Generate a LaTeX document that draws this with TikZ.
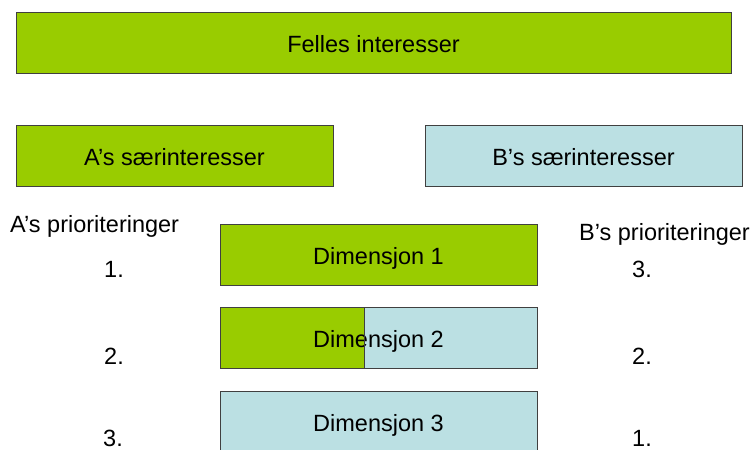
\documentclass[tikz,border=0pt]{standalone}
\usepackage{fontspec}
\setmainfont{Liberation Sans}
\definecolor{agreen}{HTML}{99CC00}
\definecolor{bblue}{HTML}{BBE0E3}
\definecolor{edge}{HTML}{404040}
\begin{document}
\begin{tikzpicture}[x=1pt,y=-1pt,
  every node/.style={font=\fontsize{23.5}{28}\selectfont, text=black},
  box/.style={draw=edge, line width=0.8pt, inner sep=0pt, outer sep=0pt,
    text height=19pt, text depth=0pt, minimum height=61pt},
  lbl/.style={inner sep=0pt, anchor=base west}]
\clip (0,0) rectangle (756,450);
\fill[white] (0,0) rectangle (756,450);
% top boxes
\node[box, fill=agreen, minimum width=715pt] (felles) at (373.5,43) {Felles interesser};
\node[box, fill=agreen, minimum width=317pt] (asaer) at (174.5,156) {A’s særinteresser};
\node[box, fill=bblue, minimum width=317pt] (bsaer) at (583.5,156) {B’s særinteresser};
% dimensions
\node[box, fill=agreen, minimum width=317pt] (d1) at (378.5,254.5) {Dimensjon 1};
\coordinate (split) at (364,307);
\fill[agreen] (220,307) rectangle (364,368);
\fill[bblue] (364,307) rectangle (537,368);
\node[box, minimum width=317pt] (d2) at (378.5,337.5) {Dimensjon 2};
\draw[edge, line width=0.8pt] (split) -- (split |- d2.south);
\node[box, fill=bblue, minimum width=317pt] (d3) at (378.5,421.5) {Dimensjon 3};
% priorities
\node[lbl] (ap) at (10,232) {A’s prioriteringer};
\node[lbl] (bp) at (579,240) {B’s prioriteringer};
\node[lbl] (a1) at (104,277) {1.};
\node[lbl] (a2) at (104,364) {2.};
\node[lbl] (a3) at (103,446) {3.};
\node[lbl] (b3) at (632,277) {3.};
\node[lbl] (b2) at (632,364) {2.};
\node[lbl] (b1) at (632,446) {1.};
\end{tikzpicture}
\end{document}
